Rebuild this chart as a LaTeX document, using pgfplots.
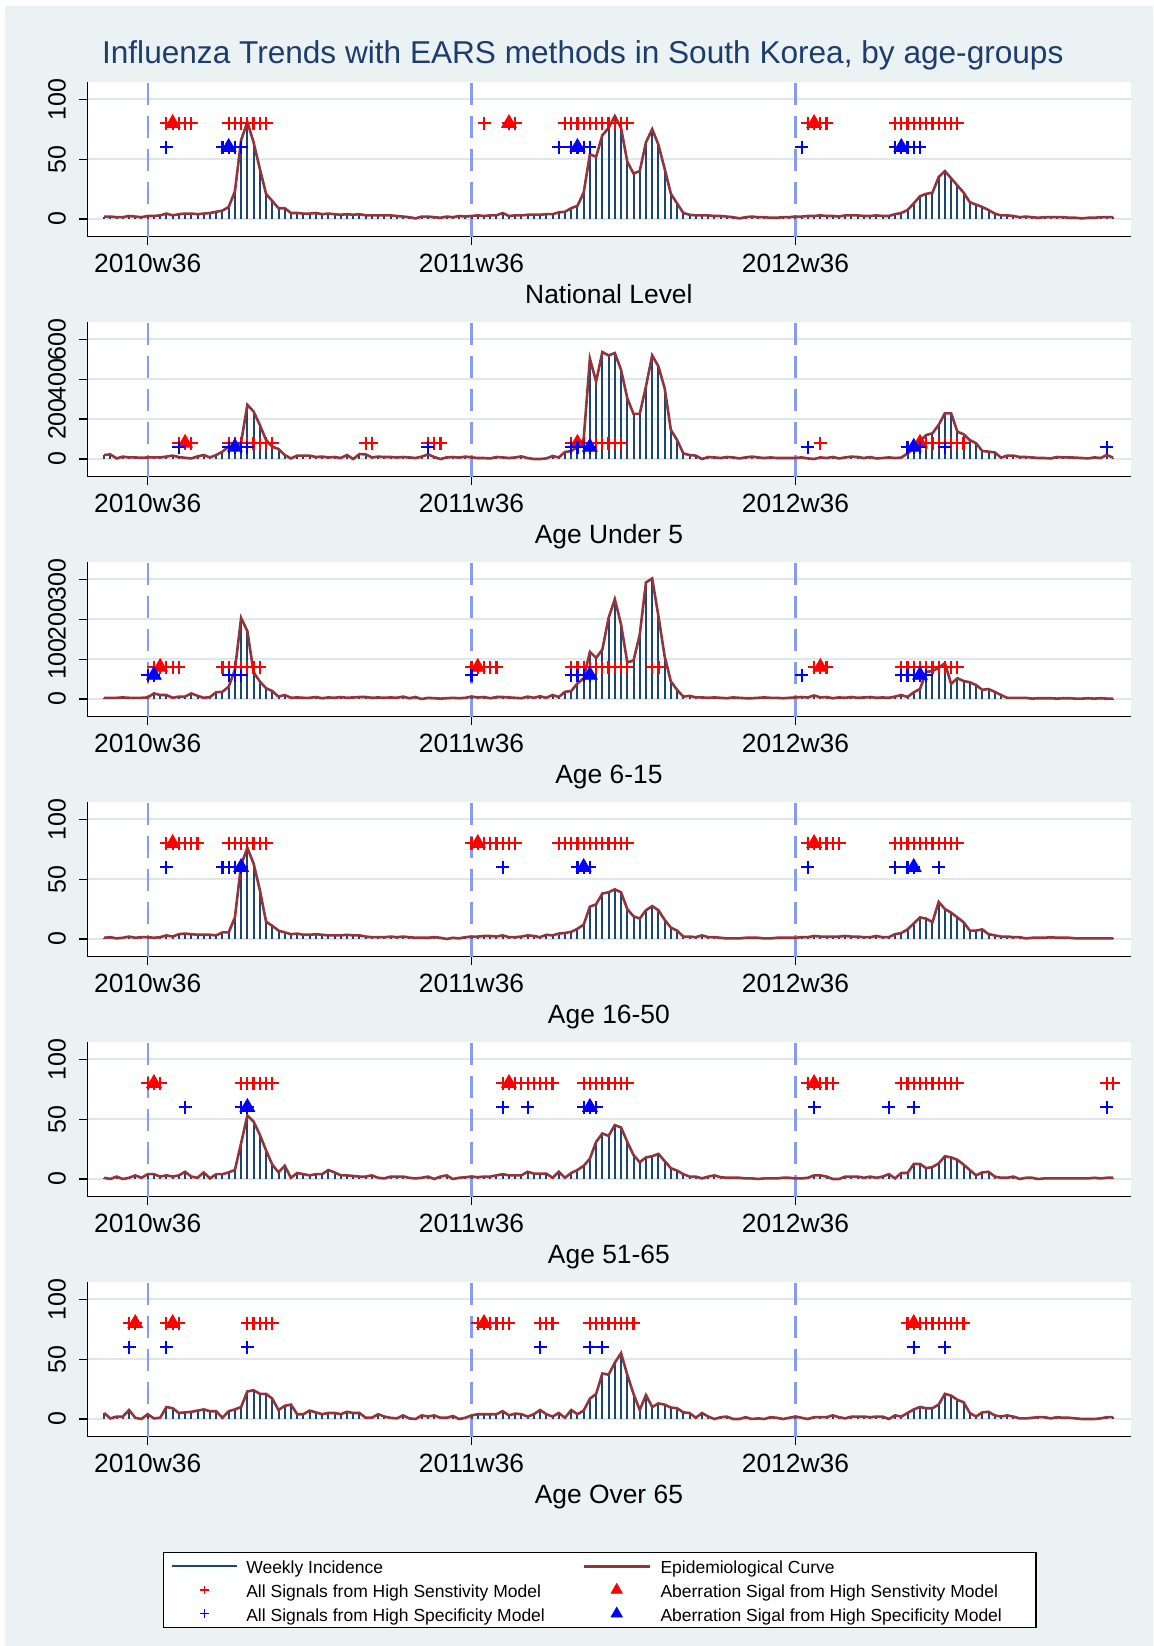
\documentclass[border=0pt]{standalone}
\usepackage{fontspec}
\setmainfont{Liberation Sans}
\usepackage{pgfplots}
\usepackage{pgfplotstable}
\pgfplotsset{compat=1.18}
\definecolor{bg}{RGB}{234,242,243}
\definecolor{stnavy}{RGB}{26,71,111}
\definecolor{stmaroon}{RGB}{144,53,59}
\definecolor{gridc}{RGB}{222,231,233}
\definecolor{vlinec}{RGB}{135,155,245}
\definecolor{titlec}{RGB}{30,60,110}

\pgfplotstableread[row sep=\\]{w v\\
-7 2\\ -6 2\\ -5 1.5\\ -4 1.5\\ -3 2.5\\ -2 2\\ -1 1.5\\ 0 2.5\\ 1 2.5\\ 2 3\\
3 4.5\\ 4 3\\ 5 4\\ 6 4.5\\ 7 4.5\\ 8 4\\ 9 4.5\\ 10 5\\ 11 6\\ 12 7\\
13 10\\ 14 23\\ 15 66\\ 16 81\\ 17 64\\ 18 42\\ 19 21\\ 20 15\\ 21 9\\ 22 9\\
23 5\\ 24 5\\ 25 4.5\\ 26 4.5\\ 27 5\\ 28 4\\ 29 4.5\\ 30 4\\ 31 3.5\\ 32 4\\
33 3.5\\ 34 4\\ 35 3\\ 36 3\\ 37 3\\ 38 3\\ 39 3\\ 40 2.5\\ 41 2\\ 42 1.5\\
43 0.5\\ 44 2\\ 45 2\\ 46 1.5\\ 47 1\\ 48 2\\ 49 1.5\\ 50 2.5\\ 51 2\\ 52 2.5\\
53 3\\ 54 2.5\\ 55 3\\ 56 3\\ 57 5\\ 58 2.5\\ 59 3\\ 60 3\\ 61 3.5\\ 62 3.5\\
63 3.5\\ 64 4\\ 65 4\\ 66 5.5\\ 67 6\\ 68 9\\ 69 11\\ 70 22\\ 71 54\\ 72 52\\
73 70\\ 74 76\\ 75 86\\ 76 76\\ 77 48\\ 78 38\\ 79 40\\ 80 64\\ 81 75\\ 82 62\\
83 42\\ 84 21\\ 85 13\\ 86 5\\ 87 3.5\\ 88 3\\ 89 3\\ 90 3\\ 91 2.5\\ 92 2.5\\
93 2\\ 94 1.5\\ 95 0.5\\ 96 1.5\\ 97 2\\ 98 1.5\\ 99 1.5\\ 100 1\\ 101 1\\ 102 1.5\\
103 1.5\\ 104 2\\ 105 2\\ 106 2.5\\ 107 2.5\\ 108 3\\ 109 2.5\\ 110 2.5\\ 111 2\\ 112 3\\
113 3\\ 114 3\\ 115 2.5\\ 116 2.5\\ 117 3\\ 118 2.5\\ 119 2.5\\ 120 4\\ 121 5\\ 122 7.5\\
123 13\\ 124 19\\ 125 21\\ 126 22\\ 127 35\\ 128 40\\ 129 34\\ 130 28\\ 131 22\\ 132 14\\
133 12\\ 134 10\\ 135 7.5\\ 136 4.5\\ 137 3\\ 138 3\\ 139 2.5\\ 140 1.5\\ 141 2\\ 142 1.5\\
143 1\\ 144 1.5\\ 145 1.5\\ 146 1.5\\ 147 1.5\\ 148 1\\ 149 1\\ 150 0.5\\ 151 1\\ 152 1\\
153 1.5\\ 154 1.5\\ 155 1.5\\
}\pa

\pgfplotstableread[row sep=\\]{w v\\
-7 20\\ -6 23\\ -5 3\\ -4 12\\ -3 8\\ -2 8\\ -1 6\\ 0 8\\ 1 8\\ 2 8\\
3 12\\ 4 17\\ 5 10\\ 6 6\\ 7 3\\ 8 13\\ 9 20\\ 10 8\\ 11 20\\ 12 37\\
13 62\\ 14 56\\ 15 85\\ 16 271\\ 17 238\\ 18 171\\ 19 95\\ 20 62\\ 21 50\\ 22 20\\
23 3\\ 24 17\\ 25 17\\ 26 17\\ 27 10\\ 28 12\\ 29 8\\ 30 10\\ 31 5\\ 32 20\\
33 0\\ 34 25\\ 35 23\\ 36 8\\ 37 12\\ 38 10\\ 39 10\\ 40 8\\ 41 10\\ 42 8\\
43 5\\ 44 12\\ 45 23\\ 46 10\\ 47 0\\ 48 8\\ 49 10\\ 50 7\\ 51 12\\ 52 8\\
53 5\\ 54 5\\ 55 3\\ 56 10\\ 57 8\\ 58 5\\ 59 8\\ 60 13\\ 61 5\\ 62 0\\
63 0\\ 64 3\\ 65 15\\ 66 8\\ 67 35\\ 68 40\\ 69 60\\ 70 100\\ 71 502\\ 72 388\\
73 536\\ 74 519\\ 75 531\\ 76 447\\ 77 305\\ 78 226\\ 79 226\\ 80 363\\ 81 519\\ 82 464\\
83 355\\ 84 146\\ 85 95\\ 86 28\\ 87 20\\ 88 17\\ 89 0\\ 90 10\\ 91 8\\ 92 5\\
93 10\\ 94 8\\ 95 3\\ 96 8\\ 97 12\\ 98 8\\ 99 5\\ 100 8\\ 101 5\\ 102 5\\
103 5\\ 104 5\\ 105 8\\ 106 3\\ 107 0\\ 108 8\\ 109 5\\ 110 10\\ 111 3\\ 112 8\\
113 12\\ 114 10\\ 115 5\\ 116 10\\ 117 3\\ 118 5\\ 119 8\\ 120 5\\ 121 7\\ 122 28\\
123 54\\ 124 90\\ 125 120\\ 126 129\\ 127 171\\ 128 229\\ 129 229\\ 130 137\\ 131 124\\ 132 95\\
133 79\\ 134 40\\ 135 37\\ 136 33\\ 137 7\\ 138 17\\ 139 17\\ 140 10\\ 141 10\\ 142 8\\
143 5\\ 144 5\\ 145 3\\ 146 10\\ 147 8\\ 148 8\\ 149 7\\ 150 5\\ 151 3\\ 152 8\\
153 5\\ 154 20\\ 155 7\\
}\pb

\pgfplotstableread[row sep=\\]{w v\\
-7 3\\ -6 3\\ -5 3\\ -4 4\\ -3 3\\ -2 3\\ -1 3\\ 0 4\\ 1 14\\ 2 10\\
3 10\\ 4 3\\ 5 6\\ 6 6\\ 7 14\\ 8 8\\ 9 3\\ 10 5\\ 11 17\\ 12 18\\
13 31\\ 14 73\\ 15 203\\ 16 170\\ 17 67\\ 18 44\\ 19 27\\ 20 20\\ 21 6\\ 22 10\\
23 3\\ 24 4\\ 25 3\\ 26 3\\ 27 5\\ 28 2\\ 29 4\\ 30 3\\ 31 5\\ 32 3\\
33 4\\ 34 5\\ 35 5\\ 36 3\\ 37 4\\ 38 3\\ 39 4\\ 40 3\\ 41 6\\ 42 2\\
43 5\\ 44 0\\ 45 3\\ 46 2\\ 47 1\\ 48 2\\ 49 3\\ 50 2\\ 51 3\\ 52 6\\
53 4\\ 54 5\\ 55 2\\ 56 5\\ 57 5\\ 58 4\\ 59 3\\ 60 2\\ 61 6\\ 62 3\\
63 7\\ 64 3\\ 65 10\\ 66 5\\ 67 18\\ 68 20\\ 69 39\\ 70 52\\ 71 118\\ 72 103\\
73 124\\ 74 203\\ 75 250\\ 76 187\\ 77 92\\ 78 96\\ 79 161\\ 80 292\\ 81 302\\ 82 208\\
83 107\\ 84 44\\ 85 23\\ 86 6\\ 87 8\\ 88 4\\ 89 4\\ 90 3\\ 91 4\\ 92 3\\
93 2\\ 94 4\\ 95 3\\ 96 2\\ 97 2\\ 98 3\\ 99 4\\ 100 3\\ 101 3\\ 102 2\\
103 3\\ 104 4\\ 105 5\\ 106 4\\ 107 9\\ 108 4\\ 109 5\\ 110 2\\ 111 4\\ 112 3\\
113 5\\ 114 3\\ 115 4\\ 116 5\\ 117 3\\ 118 4\\ 119 3\\ 120 6\\ 121 10\\ 122 5\\
123 17\\ 124 25\\ 125 68\\ 126 70\\ 127 78\\ 128 90\\ 129 38\\ 130 52\\ 131 45\\ 132 42\\
133 35\\ 134 23\\ 135 25\\ 136 18\\ 137 10\\ 138 3\\ 139 3\\ 140 3\\ 141 3\\ 142 1\\
143 2\\ 144 2\\ 145 2\\ 146 1\\ 147 2\\ 148 2\\ 149 1\\ 150 1\\ 151 2\\ 152 1\\
153 2\\ 154 1\\ 155 1\\
}\pc

\pgfplotstableread[row sep=\\]{w v\\
-7 1\\ -6 1.5\\ -5 0.5\\ -4 1\\ -3 2\\ -2 1\\ -1 1.5\\ 0 1.5\\ 1 1\\ 2 1.5\\
3 3\\ 4 2\\ 5 4\\ 6 4.5\\ 7 4\\ 8 3.5\\ 9 3.5\\ 10 3.5\\ 11 3\\ 12 5.5\\
13 5.5\\ 14 18\\ 15 62\\ 16 76\\ 17 63\\ 18 41\\ 19 14.5\\ 20 11\\ 21 7\\ 22 5.5\\
23 4\\ 24 4.5\\ 25 3.5\\ 26 3.5\\ 27 4\\ 28 3.5\\ 29 3\\ 30 3\\ 31 3\\ 32 3.5\\
33 3\\ 34 3\\ 35 2\\ 36 1.5\\ 37 1.5\\ 38 1.5\\ 39 2\\ 40 1.5\\ 41 2\\ 42 1.5\\
43 1\\ 44 1\\ 45 1\\ 46 1.5\\ 47 1\\ 48 0\\ 49 1\\ 50 0.5\\ 51 1.5\\ 52 2\\
53 2\\ 54 2.5\\ 55 2.5\\ 56 2\\ 57 3\\ 58 1.5\\ 59 1.5\\ 60 2\\ 61 3\\ 62 2.5\\
63 1.5\\ 64 3.5\\ 65 3\\ 66 4.5\\ 67 5\\ 68 6\\ 69 8.5\\ 70 12\\ 71 27\\ 72 29\\
73 38\\ 74 39\\ 75 41.5\\ 76 39\\ 77 25\\ 78 19\\ 79 17\\ 80 24\\ 81 27.5\\ 82 24\\
83 16\\ 84 9.5\\ 85 7\\ 86 2\\ 87 2\\ 88 1.5\\ 89 3\\ 90 1.5\\ 91 1.5\\ 92 1\\
93 0.5\\ 94 0.5\\ 95 0.5\\ 96 1\\ 97 1\\ 98 1\\ 99 0.5\\ 100 0.5\\ 101 1\\ 102 1\\
103 1\\ 104 1\\ 105 1.5\\ 106 1.5\\ 107 2.5\\ 108 2\\ 109 2\\ 110 2\\ 111 2\\ 112 2.5\\
113 2\\ 114 2\\ 115 1.5\\ 116 1.5\\ 117 2.5\\ 118 1.5\\ 119 1.5\\ 120 4\\ 121 5\\ 122 8\\
123 13\\ 124 18\\ 125 17\\ 126 14\\ 127 31\\ 128 25\\ 129 22\\ 130 18\\ 131 14\\ 132 7\\
133 7\\ 134 8\\ 135 4\\ 136 3\\ 137 2\\ 138 2\\ 139 1.5\\ 140 1.5\\ 141 0.5\\ 142 1\\
143 1\\ 144 1\\ 145 1.5\\ 146 1\\ 147 1\\ 148 1\\ 149 0.5\\ 150 0.5\\ 151 0.5\\ 152 0.5\\
153 0.5\\ 154 0.5\\ 155 0.5\\
}\pd

\pgfplotstableread[row sep=\\]{w v\\
-7 1\\ -6 0\\ -5 2\\ -4 0\\ -3 1\\ -2 3\\ -1 1\\ 0 4\\ 1 4\\ 2 2\\
3 3\\ 4 2\\ 5 3\\ 6 6\\ 7 2\\ 8 1\\ 9 5.5\\ 10 0.5\\ 11 4\\ 12 4\\
13 5.5\\ 14 7.5\\ 15 30\\ 16 53\\ 17 48\\ 18 37\\ 19 24\\ 20 12\\ 21 5.5\\ 22 11\\
23 1\\ 24 5\\ 25 4\\ 26 3\\ 27 4\\ 28 4\\ 29 7.5\\ 30 5.5\\ 31 3\\ 32 3\\
33 2.5\\ 34 2\\ 35 2\\ 36 3\\ 37 1\\ 38 0.5\\ 39 2\\ 40 2\\ 41 2\\ 42 1\\
43 0.5\\ 44 1\\ 45 2\\ 46 0\\ 47 2\\ 48 3\\ 49 0\\ 50 1\\ 51 1.5\\ 52 2\\
53 1.5\\ 54 2\\ 55 2\\ 56 3\\ 57 4\\ 58 3\\ 59 3\\ 60 3\\ 61 6\\ 62 4.5\\
63 4.5\\ 64 4.5\\ 65 1\\ 66 6\\ 67 1\\ 68 5\\ 69 7.5\\ 70 11\\ 71 17\\ 72 31\\
73 38\\ 74 36\\ 75 45\\ 76 43\\ 77 31\\ 78 20\\ 79 14\\ 80 18\\ 81 19\\ 82 21\\
83 15\\ 84 9\\ 85 7\\ 86 4\\ 87 2\\ 88 2\\ 89 0.5\\ 90 2\\ 91 3\\ 92 1.5\\
93 1\\ 94 1\\ 95 1\\ 96 0.5\\ 97 0.5\\ 98 0\\ 99 0.5\\ 100 0.5\\ 101 0.5\\ 102 1\\
103 1\\ 104 0.5\\ 105 0.5\\ 106 1\\ 107 3\\ 108 3\\ 109 2\\ 110 0\\ 111 0\\ 112 2\\
113 2\\ 114 2\\ 115 1\\ 116 2\\ 117 1\\ 118 2\\ 119 4\\ 120 0.5\\ 121 5\\ 122 5\\
123 12.5\\ 124 12.5\\ 125 9\\ 126 10\\ 127 13\\ 128 19\\ 129 18\\ 130 16\\ 131 12\\ 132 7.5\\
133 3\\ 134 5.5\\ 135 6\\ 136 2\\ 137 1\\ 138 1\\ 139 2\\ 140 0\\ 141 1\\ 142 1\\
143 0\\ 144 0.5\\ 145 0.5\\ 146 0.5\\ 147 0.5\\ 148 0.5\\ 149 0.5\\ 150 0.5\\ 151 0.5\\ 152 1\\
153 0.5\\ 154 1\\ 155 1\\
}\pe

\pgfplotstableread[row sep=\\]{w v\\
-7 5\\ -6 0.5\\ -5 2\\ -4 2\\ -3 7.5\\ -2 1\\ -1 0\\ 0 4\\ 1 0.5\\ 2 1\\
3 10\\ 4 9\\ 5 5\\ 6 5.5\\ 7 6\\ 8 7\\ 9 8\\ 10 6.5\\ 11 6.5\\ 12 1\\
13 6.5\\ 14 8\\ 15 10\\ 16 23\\ 17 24\\ 18 21\\ 19 21\\ 20 17\\ 21 7.5\\ 22 11\\
23 12\\ 24 4\\ 25 4\\ 26 7\\ 27 5.5\\ 28 4\\ 29 5\\ 30 5\\ 31 4\\ 32 6\\
33 5\\ 34 5\\ 35 1\\ 36 1\\ 37 4\\ 38 2\\ 39 1\\ 40 0.5\\ 41 3\\ 42 0.5\\
43 0\\ 44 3\\ 45 2\\ 46 3\\ 47 1\\ 48 1\\ 49 2.5\\ 50 0\\ 51 1\\ 52 3\\
53 4\\ 54 4\\ 55 4\\ 56 4\\ 57 6.5\\ 58 3\\ 59 4.5\\ 60 4\\ 61 2\\ 62 4\\
63 7.5\\ 64 4\\ 65 2\\ 66 5\\ 67 1\\ 68 7.5\\ 69 4\\ 70 7\\ 71 17\\ 72 21\\
73 38\\ 74 37\\ 75 47\\ 76 55\\ 77 37\\ 78 21\\ 79 7.5\\ 80 20\\ 81 10\\ 82 13\\
83 12\\ 84 9.5\\ 85 9\\ 86 5.5\\ 87 5\\ 88 1\\ 89 5\\ 90 2\\ 91 0\\ 92 1.5\\
93 2\\ 94 0\\ 95 0\\ 96 1.5\\ 97 0\\ 98 0.5\\ 99 0\\ 100 1.5\\ 101 1\\ 102 0\\
103 1\\ 104 2\\ 105 1\\ 106 0\\ 107 1.5\\ 108 1.5\\ 109 1.5\\ 110 3\\ 111 1.5\\ 112 0.5\\
113 2\\ 114 2\\ 115 2\\ 116 1.5\\ 117 2\\ 118 2\\ 119 0\\ 120 3\\ 121 2\\ 122 5\\
123 8\\ 124 10\\ 125 9\\ 126 9\\ 127 12\\ 128 21\\ 129 19.5\\ 130 16\\ 131 14\\ 132 5\\
133 2\\ 134 5.5\\ 135 6\\ 136 3\\ 137 2\\ 138 3\\ 139 2\\ 140 0.5\\ 141 0.5\\ 142 1\\
143 1.5\\ 144 1.5\\ 145 0.5\\ 146 1.5\\ 147 1\\ 148 1\\ 149 0.5\\ 150 0\\ 151 0\\ 152 0\\
153 0.5\\ 154 1.5\\ 155 1.5\\
}\pf

\pgfplotsset{
  panel/.style={
    scale only axis, width=521.6pt, height=77.2pt,
    anchor=south west,
    xmin=-9.7, xmax=157.8,
    axis x line*=bottom, axis y line*=left,
    axis line style={black, line width=0.6pt, -},
    xtick={0,52,104}, xticklabels={2010w36,2011w36,2012w36},
    tick align=outside, major tick length=4pt,
    tick style={black, line width=0.6pt},
    minor tick num=0,
    ymajorgrids, grid style={gridc, line width=1.1pt},
    axis background/.style={fill=white},
    /pgf/number format/assume math mode=true,
    xticklabel style={font=\fontsize{13.2}{15}\selectfont, anchor=base, yshift=-13.9pt, inner sep=0pt},
    yticklabel style={font=\fontsize{12.5}{14}\selectfont, xshift=-6.8pt, rotate=90, anchor=base, inner sep=0pt},
    xlabel style={font=\fontsize{13.2}{15}\selectfont, at={(axis description cs:0.5,0)}, anchor=base, yshift=-33.4pt, inner sep=0pt},
  },
  spk/.style={ycomb, draw=stnavy, line width=1pt, no marks, forget plot},
  crv/.style={draw=stmaroon, line width=1.3pt, no marks, forget plot},
  rp/.style={only marks, mark=+, mark size=3.25pt, draw=red, mark options={line width=1.1pt, draw=red}, forget plot},
  rt/.style={only marks, mark=triangle*, mark size=4.2pt, draw=red, fill=red, mark options={draw=red, fill=red}, forget plot},
  bp/.style={only marks, mark=+, mark size=3.25pt, draw=blue, mark options={line width=1.1pt, draw=blue}, forget plot},
  bt/.style={only marks, mark=triangle*, mark size=4.2pt, draw=blue, fill=blue, mark options={draw=blue, fill=blue}, forget plot},
  vl/.style={draw=vlinec, line width=1.1pt, dash pattern=on 11pt off 5.5pt, forget plot},
}

\begin{document}
\begin{tikzpicture}[x=1pt,y=1pt]
\fill[bg] (2.5,0) rectangle (576.5,820);
\path (0,0) rectangle (576.5,823);
\node[anchor=base, font=\fontsize{15.8}{19}\selectfont, text=titlec] at (291.4,791.1) {Influenza Trends with EARS methods in South Korea, by age-groups};

% Panel 1
\begin{axis}[panel, at={(43.65pt,704.65pt)}, ymin=-14.8, ymax=114.2, ytick={0,50,100}, xlabel={National Level}]
\addplot[vl] coordinates {(0,-14.8) (0,114.2)};
\addplot[vl] coordinates {(52,-14.8) (52,114.2)};
\addplot[vl] coordinates {(104,-14.8) (104,114.2)};
\addplot[spk] table[x=w,y=v]{\pa};
\addplot[crv] table[x=w,y=v]{\pa};
\addplot[rp] coordinates {(3,80)(4,80)(5,80)(6,80)(7,80)(13,80)(14,80)(15,80)(16,80)(17,80)(18,80)(19,80)(54,80)(58,80)(59,80)(67,80)(68,80)(69,80)(70,80)(71,80)(72,80)(73,80)(74,80)(75,80)(76,80)(77,80)(106,80)(107,80)(108,80)(109,80)(120,80)(121,80)(122,80)(123,80)(124,80)(125,80)(126,80)(127,80)(128,80)(129,80)(130,80)};
\addplot[rt] coordinates {(4,80)(58,80)(107,80)};
\addplot[bp] coordinates {(3,60)(12,60)(13,60)(14,60)(15,60)(66,60)(68,60)(69,60)(70,60)(71,60)(105,60)(120,60)(121,60)(122,60)(123,60)(124,60)};
\addplot[bt] coordinates {(13,60)(69,60)(121,60)};
\end{axis}

% Panel 2
\begin{axis}[panel, at={(43.65pt,584.65pt)}, ymin=-88.6, ymax=685, ytick={0,200,400,600}, xlabel={Age Under 5}]
\addplot[vl] coordinates {(0,-88.6) (0,685)};
\addplot[vl] coordinates {(52,-88.6) (52,685)};
\addplot[vl] coordinates {(104,-88.6) (104,685)};
\addplot[spk] table[x=w,y=v]{\pb};
\addplot[crv] table[x=w,y=v]{\pb};
\addplot[rp] coordinates {(5,80)(6,80)(7,80)(13,80)(14,80)(15,80)(16,80)(17,80)(18,80)(19,80)(20,80)(35,80)(36,80)(45,80)(46,80)(47,80)(68,80)(69,80)(70,80)(71,80)(72,80)(73,80)(74,80)(75,80)(76,80)(108,80)(124,80)(125,80)(126,80)(127,80)(128,80)(129,80)(130,80)(131,80)};
\addplot[rt] coordinates {(6,80)(69,80)(124,80)};
\addplot[bp] coordinates {(5,60)(13,60)(14,60)(15,60)(16,60)(45,60)(68,60)(69,60)(70,60)(71,60)(106,60)(122,60)(123,60)(124,60)(128,60)(154,60)};
\addplot[bt] coordinates {(14,60)(71,60)(123,60)};
\end{axis}

% Panel 3
\begin{axis}[panel, at={(43.65pt,464.65pt)}, ymin=-44.3, ymax=342.6, ytick={0,100,200,300}, xlabel={Age 6-15}]
\addplot[vl] coordinates {(0,-44.3) (0,342.6)};
\addplot[vl] coordinates {(52,-44.3) (52,342.6)};
\addplot[vl] coordinates {(104,-44.3) (104,342.6)};
\addplot[spk] table[x=w,y=v]{\pc};
\addplot[crv] table[x=w,y=v]{\pc};
\addplot[rp] coordinates {(1,80)(2,80)(3,80)(4,80)(5,80)(12,80)(13,80)(14,80)(15,80)(16,80)(17,80)(18,80)(52,80)(53,80)(54,80)(55,80)(56,80)(68,80)(69,80)(70,80)(71,80)(72,80)(73,80)(74,80)(75,80)(76,80)(77,80)(81,80)(82,80)(107,80)(108,80)(109,80)(121,80)(122,80)(123,80)(124,80)(125,80)(126,80)(127,80)(128,80)(129,80)(130,80)};
\addplot[rt] coordinates {(2,80)(53,80)(108,80)};
\addplot[bp] coordinates {(0,60)(1,60)(13,60)(14,60)(15,60)(52,60)(68,60)(69,60)(70,60)(71,60)(105,60)(121,60)(122,60)(123,60)(124,60)(125,60)};
\addplot[bt] coordinates {(1,60)(71,60)(124,60)};
\end{axis}

% Panel 4
\begin{axis}[panel, at={(43.65pt,344.65pt)}, ymin=-14.8, ymax=114.2, ytick={0,50,100}, xlabel={Age 16-50}]
\addplot[vl] coordinates {(0,-14.8) (0,114.2)};
\addplot[vl] coordinates {(52,-14.8) (52,114.2)};
\addplot[vl] coordinates {(104,-14.8) (104,114.2)};
\addplot[spk] table[x=w,y=v]{\pd};
\addplot[crv] table[x=w,y=v]{\pd};
\addplot[rp] coordinates {(3,80)(4,80)(5,80)(6,80)(7,80)(8,80)(13,80)(14,80)(15,80)(16,80)(17,80)(18,80)(19,80)(52,80)(53,80)(54,80)(55,80)(56,80)(57,80)(58,80)(59,80)(66,80)(67,80)(68,80)(69,80)(70,80)(71,80)(72,80)(73,80)(74,80)(75,80)(76,80)(77,80)(106,80)(107,80)(108,80)(109,80)(110,80)(111,80)(120,80)(121,80)(122,80)(123,80)(124,80)(125,80)(126,80)(127,80)(128,80)(129,80)(130,80)};
\addplot[rt] coordinates {(4,80)(53,80)(107,80)};
\addplot[bp] coordinates {(3,60)(12,60)(13,60)(14,60)(15,60)(57,60)(69,60)(70,60)(71,60)(106,60)(120,60)(122,60)(123,60)(127,60)};
\addplot[bt] coordinates {(15,60)(70,60)(123,60)};
\end{axis}

% Panel 5
\begin{axis}[panel, at={(43.65pt,224.65pt)}, ymin=-14.8, ymax=114.2, ytick={0,50,100}, xlabel={Age 51-65}]
\addplot[vl] coordinates {(0,-14.8) (0,114.2)};
\addplot[vl] coordinates {(52,-14.8) (52,114.2)};
\addplot[vl] coordinates {(104,-14.8) (104,114.2)};
\addplot[spk] table[x=w,y=v]{\pe};
\addplot[crv] table[x=w,y=v]{\pe};
\addplot[rp] coordinates {(0,80)(1,80)(2,80)(15,80)(16,80)(17,80)(18,80)(19,80)(20,80)(57,80)(58,80)(59,80)(60,80)(61,80)(62,80)(63,80)(64,80)(65,80)(70,80)(71,80)(72,80)(73,80)(74,80)(75,80)(76,80)(77,80)(106,80)(107,80)(108,80)(109,80)(110,80)(121,80)(122,80)(123,80)(124,80)(125,80)(126,80)(127,80)(128,80)(129,80)(130,80)(154,80)(155,80)};
\addplot[rt] coordinates {(1,80)(58,80)(107,80)};
\addplot[bp] coordinates {(6,60)(15,60)(16,60)(57,60)(61,60)(70,60)(71,60)(72,60)(107,60)(119,60)(123,60)(154,60)};
\addplot[bt] coordinates {(16,60)(71,60)};
\end{axis}

% Panel 6
\begin{axis}[panel, at={(43.65pt,104.65pt)}, ymin=-14.8, ymax=114.2, ytick={0,50,100}, xlabel={Age Over 65},
  legend columns=2,
  legend style={at={(axis description cs:0.0723,-0.744)}, anchor=north west, draw=black, line width=0.6pt, fill=white,
    inner xsep=0pt, inner ysep=1.8pt, column sep=0pt, row sep=1.3pt,
    font=\fontsize{8.75}{10}\selectfont, nodes={inner sep=0pt}},
  legend cell align=left]
\addplot[vl] coordinates {(0,-14.8) (0,114.2)};
\addplot[vl] coordinates {(52,-14.8) (52,114.2)};
\addplot[vl] coordinates {(104,-14.8) (104,114.2)};
\addplot[spk] table[x=w,y=v]{\pf};
\addplot[crv] table[x=w,y=v]{\pf};
\addplot[rp] coordinates {(-3,80)(-2,80)(3,80)(4,80)(5,80)(16,80)(17,80)(18,80)(19,80)(20,80)(53,80)(54,80)(55,80)(56,80)(57,80)(58,80)(63,80)(64,80)(65,80)(71,80)(72,80)(73,80)(74,80)(75,80)(76,80)(77,80)(78,80)(122,80)(123,80)(124,80)(125,80)(126,80)(127,80)(128,80)(129,80)(130,80)(131,80)};
\addplot[rt] coordinates {(-2,80)(4,80)(54,80)(123,80)};
\addplot[bp] coordinates {(-3,60)(3,60)(16,60)(63,60)(71,60)(73,60)(123,60)(128,60)};

\addlegendimage{legend image code/.code={\path[draw=none,fill=none] (0pt,-1pt) rectangle (41.5pt,1pt); \draw[draw=stnavy,line width=1pt] (4.25pt,0pt) -- (36.75pt,0pt);}}
\addlegendentry{\makebox[168.1pt][l]{\rule[-3.05pt]{0pt}{12.1pt}Weekly Incidence}}
\addlegendimage{legend image code/.code={\path[draw=none,fill=none] (0pt,-1pt) rectangle (38.4pt,1pt); \draw[draw=stmaroon,line width=1.2pt] (0pt,0pt) -- (33pt,0pt);}}
\addlegendentry{\makebox[187.7pt][l]{\rule[-3.05pt]{0pt}{12.1pt}Epidemiological Curve}}
\addlegendimage{legend image code/.code={\path[draw=none,fill=none] (0pt,-1pt) rectangle (41.5pt,1pt); \draw[draw=red,line width=0.6pt] plot[only marks, mark=+, mark size=2.2pt] coordinates {(20.5pt,0pt)};}}
\addlegendentry{\makebox[168.1pt][l]{\rule[-3.05pt]{0pt}{12.1pt}All Signals from High Senstivity Model}}
\addlegendimage{legend image code/.code={\path[draw=none,fill=none] (0pt,-1pt) rectangle (38.4pt,1pt); \path[draw=red,fill=red,line width=0.3pt] plot[only marks, mark=triangle*, mark size=3.3pt] coordinates {(16.5pt,0pt)};}}
\addlegendentry{\makebox[187.7pt][l]{\rule[-3.05pt]{0pt}{12.1pt}Aberration Sigal from High Senstivity Model}}
\addlegendimage{legend image code/.code={\path[draw=none,fill=none] (0pt,-1pt) rectangle (41.5pt,1pt); \draw[draw=blue,line width=0.6pt] plot[only marks, mark=+, mark size=2.2pt] coordinates {(20.5pt,0pt)};}}
\addlegendentry{\makebox[168.1pt][l]{\rule[-3.05pt]{0pt}{12.1pt}All Signals from High Specificity Model}}
\addlegendimage{legend image code/.code={\path[draw=none,fill=none] (0pt,-1pt) rectangle (38.4pt,1pt); \path[draw=blue,fill=blue,line width=0.3pt] plot[only marks, mark=triangle*, mark size=3.3pt] coordinates {(16.5pt,0pt)};}}
\addlegendentry{\makebox[187.7pt][l]{\rule[-3.05pt]{0pt}{12.1pt}Aberration Sigal from High Specificity Model}}
\end{axis}
\end{tikzpicture}
\end{document}
